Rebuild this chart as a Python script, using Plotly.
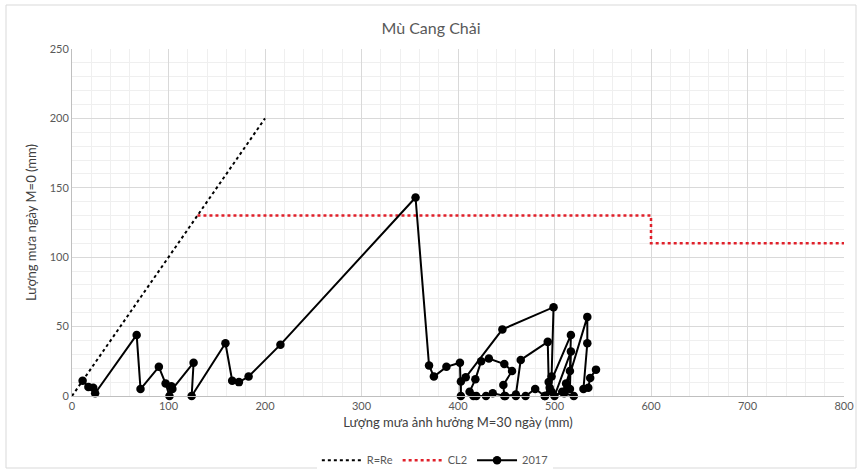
import plotly.graph_objects as go

# R=Re reference line
re_x = [0, 200]
re_y = [0, 200]

# CL2 threshold (step)
cl2_x = [130, 600, 600, 800]
cl2_y = [130, 130, 110, 110]

# 2017 observations: antecedent 30-day rainfall vs daily rainfall (mm)
obs_x = [11, 17, 22, 24, 67, 71, 90, 97, 101, 103, 104, 126, 124, 159, 166, 173, 183, 216,
         356, 370, 375, 388, 402, 403, 403, 408, 446, 499, 497, 495, 490, 480, 470, 460,
         449, 436, 429, 419, 416, 412, 418, 424, 432, 448, 456, 447, 448, 460, 465, 493,
         494, 497, 490, 517, 516, 512, 508, 500, 517, 516, 520, 510, 534, 534, 530, 535,
         537, 543]
obs_y = [11, 6.5, 6, 2, 44, 5, 21, 9, 0, 7, 5, 24, 0, 38, 11, 10, 14, 37,
         143, 22, 14, 21, 24, 0, 10.5, 13.5, 48, 64, 14, 6, 0, 5, 0, 0,
         0, 2, 0, 0, 0, 3, 12, 25, 27, 23, 18, 8, 0, 1, 26, 39,
         10, 3, 0, 44, 18, 9, 3, 0, 32, 5, 0, 2, 57, 38, 5, 6,
         13, 19]

x_ticks = [0, 100, 200, 300, 400, 500, 600, 700, 800]
y_ticks = [0, 50, 100, 150, 200, 250]

font_family = "Lato, 'Open Sans', sans-serif"
text_grey = "#595959"

fig = go.Figure()

fig.add_trace(go.Scatter(
    x=re_x, y=re_y, mode="lines", name="R=Re",
    line=dict(color="black", width=2, dash="dot"),
))
fig.add_trace(go.Scatter(
    x=cl2_x, y=cl2_y, mode="lines", name="CL2",
    line=dict(color="#e0202a", width=2.5, dash="dot"),
))
fig.add_trace(go.Scatter(
    x=obs_x, y=obs_y, mode="lines+markers", name="2017",
    line=dict(color="black", width=2),
    marker=dict(color="black", size=8.5, symbol="circle"),
    cliponaxis=False,
))

axis_common = dict(
    showgrid=True,
    gridcolor="#d9d9d9",
    gridwidth=1,
    zeroline=False,
    showline=True,
    linecolor="#bfbfbf",
    linewidth=1,
    ticks="",
    automargin=False,
    tickfont=dict(family=font_family, size=11, color=text_grey),
    title_font=dict(family=font_family, size=13, color="#404040"),
)

fig.update_xaxes(
    range=[0, 800], tickvals=x_ticks,
    minor=dict(dtick=20, showgrid=True, gridcolor="#efefef", gridwidth=1),
    title_text="Lượng mưa ảnh hưởng M=30 ngày (mm)",
    title_standoff=6,
    **axis_common,
)
fig.update_yaxes(
    range=[0, 250], tickvals=y_ticks,
    minor=dict(dtick=10, showgrid=True, gridcolor="#efefef", gridwidth=1),
    title_text="Lượng mưa ngày M=0 (mm)",
    title_standoff=10,
    **axis_common,
)

fig.update_layout(
    width=862, height=473,
    margin=dict(l=72, r=18, t=49, b=77, autoexpand=False),
    paper_bgcolor="white",
    plot_bgcolor="white",
    title=dict(
        text="Mù Cang Chải",
        x=0.5, xanchor="center", y=0.94, yanchor="middle",
        font=dict(family=font_family, size=16, color=text_grey),
    ),
    legend=dict(
        orientation="h",
        x=0.47, xanchor="center",
        y=-0.185, yanchor="middle",
        font=dict(family=font_family, size=11, color=text_grey),
        itemwidth=40,
    ),
    shapes=[dict(
        type="rect", xref="paper", yref="paper",
        x0=-66 / 772, x1=1 + 12 / 772,
        y0=-72 / 347, y1=1 + 44 / 347,
        line=dict(color="#d9d9d9", width=1),
    )],
)

fig.write_html("out.html")
